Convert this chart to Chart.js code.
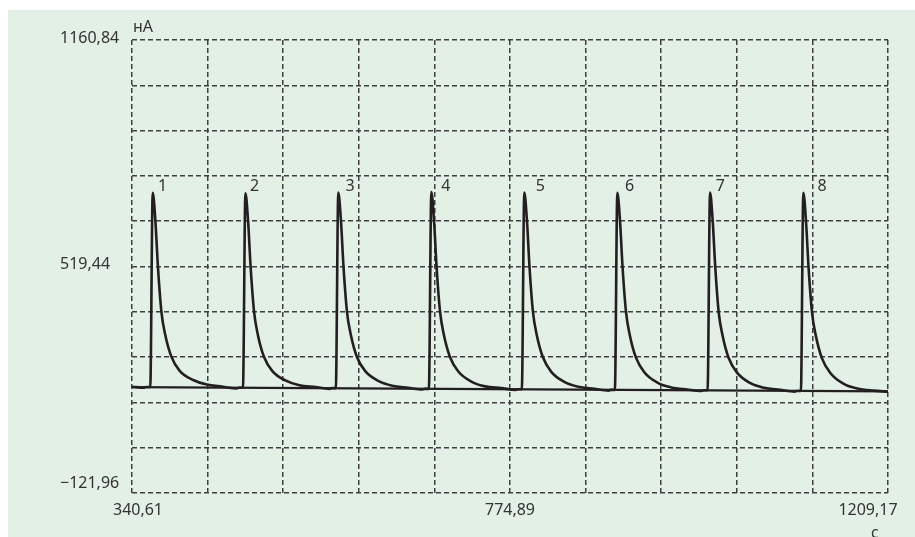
<!DOCTYPE html>
<html>
<head>
<meta charset="utf-8">
<title>Ток, нА</title>
<script src="https://cdn.jsdelivr.net/npm/chart.js@4.4.1/dist/chart.umd.min.js"></script>
<style>
    html, body { margin: 0; padding: 0; background: #ffffff; }
    #panel { position: absolute; left: 8px; top: 10px; right: 0; bottom: 0; background: #e2f0e6; }
    #wrap { position: absolute; left: 0; top: 0; width: 915px; height: 537px; }
</style>
</head>
<body>
<div id="panel"></div>
<div id="wrap"><canvas id="currentChart"></canvas></div>
<script>
// axis range (s, нА)
const timeMin = 340.61;
const timeMax = 1209.17;
const currentMin = -121.96;
const currentMax = 1160.84;

const xTickValues = [340.61, 774.89, 1209.17];
const xTickLabels = ['340,61', '774,89', '1209,17'];
const yTickValues = [1160.84, 519.44, -121.96];
const yTickLabels = ['1160,84', '519,44', '\u2212121,96'];

// trace (time in s, current in нА)
const traceTime = [
    340.61,
    354.4, 356.9, 361.6, 364.4, 367.5, 370.4, 374.4, 378.8, 385.7, 395.4, 410.9, 426.4, 444.8,
    460.9, 463.4, 468.1, 470.9, 474.0, 476.9, 480.9, 485.3, 492.2, 501.9, 517.4, 532.9, 551.3,
    567.6, 570.1, 574.8, 577.6, 580.7, 583.6, 587.6, 592.0, 598.9, 608.6, 624.1, 639.6, 658.0,
    674.5, 677.0, 681.7, 684.5, 687.6, 690.5, 694.5, 698.9, 705.8, 715.5, 731.0, 746.5, 764.9,
    781.3, 783.8, 788.5, 791.3, 794.4, 797.3, 801.3, 805.7, 812.6, 822.3, 837.8, 853.3, 871.7,
    888.2, 890.7, 895.4, 898.2, 901.3, 904.2, 908.2, 912.6, 919.5, 929.2, 944.7, 960.2, 978.6,
    994.7, 997.2, 1001.9, 1004.7, 1007.8, 1010.7, 1014.7, 1019.1, 1026.0, 1035.7, 1051.2, 1066.7, 1085.1,
    1101.9, 1104.4, 1109.1, 1111.9, 1115.0, 1117.9, 1121.9, 1126.3, 1133.2, 1142.9, 1158.4, 1173.9, 1192.3,
    1209.17
];
const traceCurrent = [
    179,
    176, 178, 178, 728, 648, 519, 391, 326, 265, 224, 198, 185, 179,
    174, 176, 176, 727, 647, 518, 390, 325, 264, 223, 196, 183, 178,
    173, 175, 175, 729, 648, 519, 391, 326, 264, 223, 195, 182, 176,
    171, 173, 173, 730, 649, 520, 392, 326, 264, 222, 193, 180, 175,
    170, 172, 172, 729, 648, 518, 390, 325, 263, 221, 192, 179, 173,
    168, 170, 170, 728, 647, 518, 390, 324, 262, 220, 190, 177, 171,
    167, 169, 169, 729, 647, 518, 389, 324, 261, 219, 189, 176, 170,
    165, 167, 167, 728, 646, 517, 389, 323, 260, 218, 187, 174, 168,
    165
];

// straight zero level under the trace
const baseTime = [340.61, 1209.17];
const baseCurrent = [178, 166];

// peak numbers and where they sit
const peakLabels = ['1', '2', '3', '4', '5', '6', '7', '8'];
const peakLabelTime = [375.7, 481.5, 591.1, 701.1, 809.7, 912.4, 1016.5, 1133.3];
const peakLabelCurrent = 745;

const FONT = '"Noto Sans", "Open Sans", sans-serif';
const TEXT = '#333333';
const GRID = '#3f3f3f';

const gridTicks = (min, max) => {
    const out = [];
    for (let i = 0; i <= 10; i++) out.push({ value: min + (max - min) * i / 10 });
    return out;
};

// draws the axis numbers, units and peak numbers at scale positions
const labelsPlugin = {
    id: 'labels',
    afterDraw(chart) {
        const { ctx, chartArea, scales: { x, y } } = chart;
        ctx.save();
        ctx.fillStyle = TEXT;
        ctx.font = '16px ' + FONT;
        ctx.textBaseline = 'middle';

        const yOffsets = [-2, -2, -10];
        ctx.textAlign = 'left';
        yTickValues.forEach((v, i) => {
            ctx.fillText(yTickLabels[i], 60, y.getPixelForValue(v) + yOffsets[i]);
        });

        const xOffsets = [6, 0, -20];
        ctx.textAlign = 'center';
        xTickValues.forEach((v, i) => {
            ctx.fillText(xTickLabels[i], x.getPixelForValue(v) + xOffsets[i], chartArea.bottom + 17);
        });

        ctx.textAlign = 'left';
        ctx.fillText('нА', chartArea.left + 1, chartArea.top - 13);
        ctx.textAlign = 'center';
        ctx.fillText('с', chartArea.right - 13, chartArea.bottom + 40);

        peakLabels.forEach((t, i) => {
            ctx.fillText(t, x.getPixelForValue(peakLabelTime[i]), y.getPixelForValue(peakLabelCurrent));
        });
        ctx.restore();
    }
};

const ctx = document.getElementById('currentChart').getContext('2d');
const chart = new Chart(ctx, {
    type: 'line',
    data: {
        datasets: [
            {
                label: 'base',
                data: baseTime.map((t, i) => ({ x: t, y: baseCurrent[i] })),
                borderColor: '#231f20',
                borderWidth: 2.2,
                pointRadius: 0,
                fill: false
            },
            {
                label: 'ток',
                data: traceTime.map((t, i) => ({ x: t, y: traceCurrent[i] })),
                borderColor: '#231f20',
                borderWidth: 2.6,
                pointRadius: 0,
                cubicInterpolationMode: 'monotone',
                fill: false
            }
        ]
    },
    options: {
        responsive: true,
        maintainAspectRatio: false,
        animation: false,
        layout: {
            padding: { left: 132, top: 40, right: 27, bottom: 44 }
        },
        scales: {
            x: {
                type: 'linear',
                min: timeMin,
                max: timeMax,
                afterBuildTicks: (scale) => { scale.ticks = gridTicks(timeMin, timeMax); },
                ticks: { display: false },
                grid: { color: GRID, lineWidth: 1.5, drawTicks: false },
                border: { display: false, dash: [5, 3] }
            },
            y: {
                type: 'linear',
                min: currentMin,
                max: currentMax,
                afterBuildTicks: (scale) => { scale.ticks = gridTicks(currentMin, currentMax); },
                ticks: { display: false },
                grid: { color: GRID, lineWidth: 1.5, drawTicks: false },
                border: { display: false, dash: [5, 3] }
            }
        },
        plugins: {
            legend: { display: false },
            tooltip: { enabled: false }
        }
    },
    plugins: [labelsPlugin]
});
</script>
</body>
</html>
